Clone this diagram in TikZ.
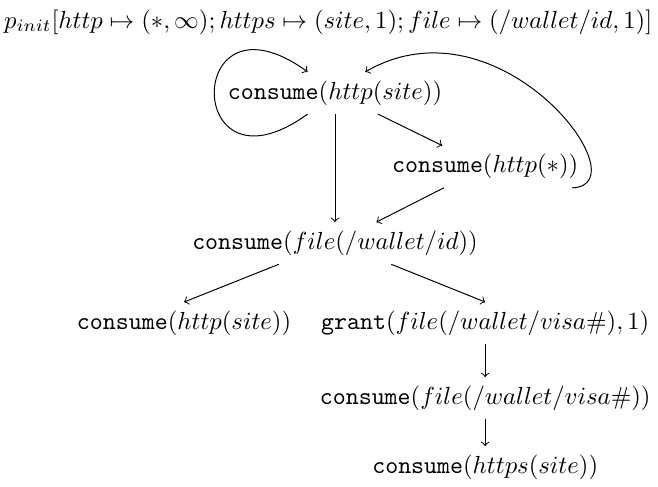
\documentclass[tikz,border=0pt]{standalone}
\usepackage{amsmath,amsfonts,amssymb}
\usepackage{tikz}

\begin{document}
\begin{tikzpicture}
            \useasboundingbox (-4.766,1.323) rectangle (4.595,-5.605);
            \node (init) at (-0.097,1.01) {$p_{init}[http \mapsto (*,\infty); https \mapsto (site,1); file \mapsto (/wallet/id,1)]$};
            \node (A) at (0,0) {$\texttt{consume}(http(site))$};
            \node (B) at (2.137,-1.049) {$\texttt{consume}(http(*))$};
            \node (C) at (0,-2.137) {$\texttt{consume}(file(/wallet/id))$};
            \node (D) at (-2.147,-3.274) {$\texttt{consume}(http(site))$};
            \node (E) at (2.137,-3.274) {$\texttt{grant}(file(/wallet/visa\#),1)$};
            \node (F) at (2.137,-4.343) {$\texttt{consume}(file(/wallet/visa\#))$};
            \node (G) at (2.137,-5.324) {$\texttt{consume}(https(site))$};
            \draw[->] ([xshift=-0.389cm]A.south) .. controls +(-1.77,-1.28) and +(-1.77,1.28) .. ([xshift=-0.389cm]A.north);
            \path[->] (A) edge (B);
            \path[->] (A) edge (C);
            \path[->] (B) edge (C);
            \draw[->] ([xshift=-0.21cm]B.south east) .. controls +(1.02,0.03) and +(1.92,1.11) .. ([xshift=0.43cm]A.north);
            \draw[->] ([xshift=-0.8cm]C.south) -- (D.north);
            \draw[->] ([xshift=0.8cm]C.south) -- (E.north);
            \path[->] (E) edge (F);
            \path[->] (F) edge (G);
        \end{tikzpicture}
\end{document}
